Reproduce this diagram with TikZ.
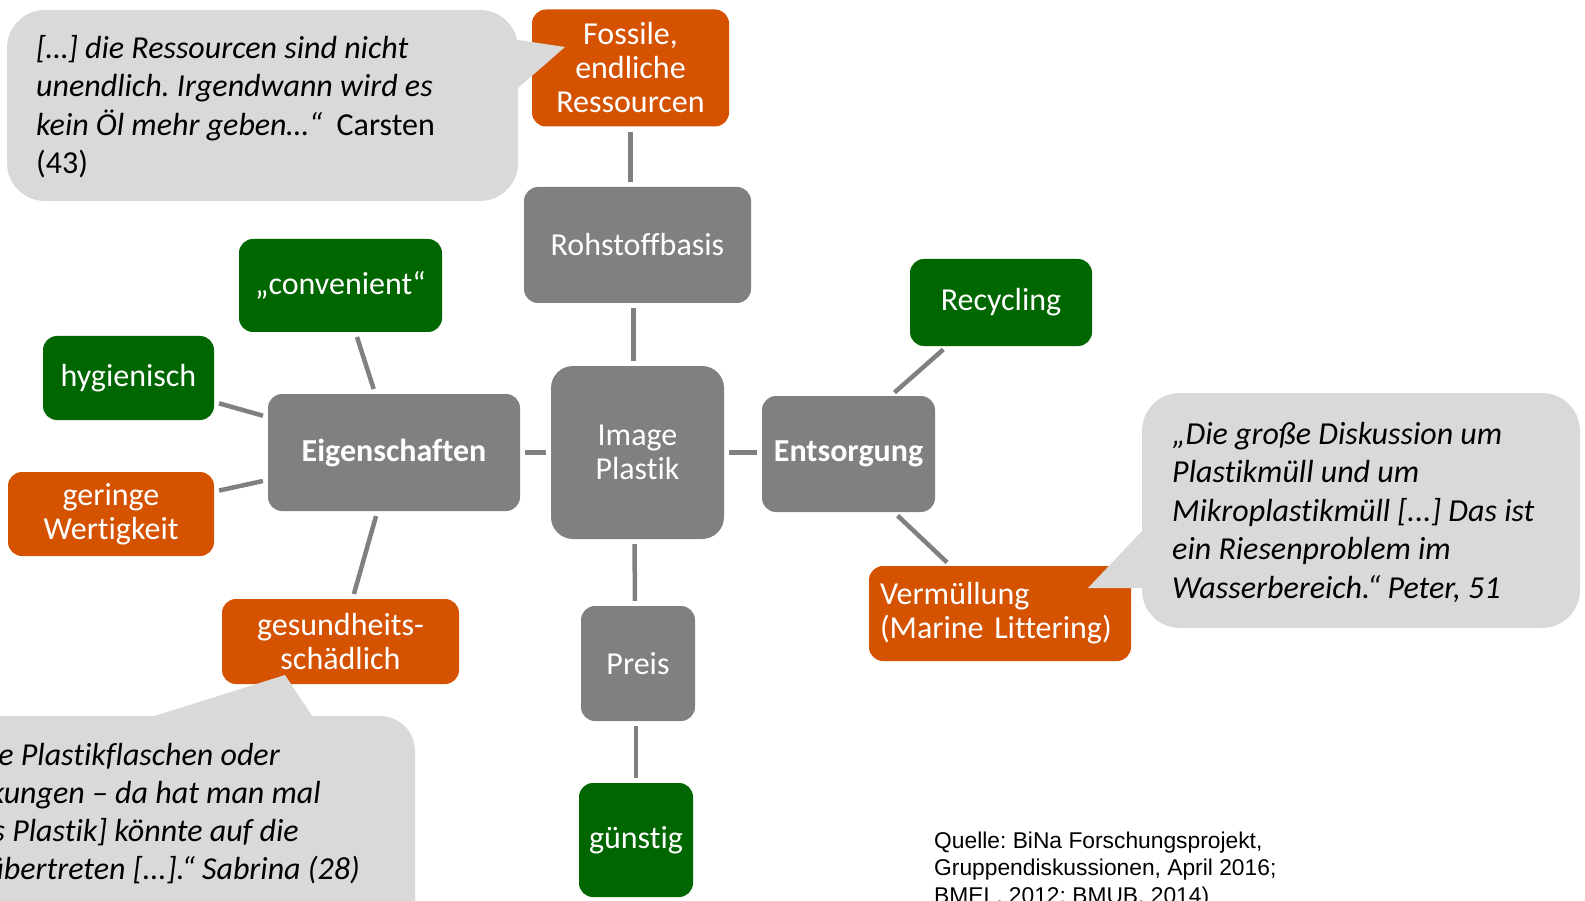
\documentclass[tikz,border=0pt]{standalone}
\usepackage{fontspec}
\setmainfont{Carlito}[Ligatures={TeX,NoCommon}]
\newfontfamily\arialf{Liberation Sans}
\usetikzlibrary{calc}
\definecolor{orng}{RGB}{213,82,0}
\definecolor{grn}{RGB}{0,102,0}
\definecolor{gbox}{RGB}{128,128,128}
\definecolor{bub}{RGB}{217,217,217}
\definecolor{conncol}{RGB}{128,128,128}
\frenchspacing
\begin{document}
\begin{tikzpicture}[x=1pt,y=-1pt,
  box/.style={rectangle, rounded corners=14pt, text=white, font=\fontsize{32}{34}\selectfont, align=center, inner sep=0pt},
  obox/.style={box, fill=orng},
  gbx/.style={box, fill=grn},
  ybox/.style={box, fill=gbox},
  boldtext/.style={font=\fontsize{32}{34}\selectfont\bfseries},
  conn/.style={draw=conncol, line width=4.5pt, shorten <=5pt, shorten >=5pt},
  quote/.style={font=\fontsize{32}{38.5}\selectfont\itshape, align=left, inner sep=0pt, anchor=west, text=black},
  bq/.style={font=\fontsize{32}{38.5}\selectfont\itshape, inner sep=0pt, anchor=base east, text=black},
  bubble/.style={fill=bub},
]
\useasboundingbox (0,0) rectangle (1585,901);
\clip (0,0) rectangle (1585,901);

% boxes
\node[obox, minimum width=197pt, minimum height=117pt] (fos) at (630.5,68) {Fossile,\\endliche\\Ressourcen};
\node[ybox, minimum width=227pt, minimum height=116pt] (roh) at (637.5,245) {Rohstoffbasis};
\node[ybox, rounded corners=22pt, minimum width=173pt, minimum height=173pt] (img) at (637.5,452.5) {Image\\Plastik};
\node[ybox, boldtext, minimum width=252pt, minimum height=117pt] (eig) at (394,452.5) {Eigenschaften};
\node[gbx, minimum width=203pt, minimum height=93pt] (conv) at (340.5,285.5) {„convenient“};
\node[gbx, minimum width=171pt, minimum height=84pt] (hyg) at (128.5,378) {hygienisch};
\node[obox, minimum width=206pt, minimum height=84pt] (ger) at (111,514) {geringe\\Wertigkeit};
\node[obox, minimum width=237pt, minimum height=85pt] (ges) at (340.5,641.5) {gesundheits-\\schädlich};
\node[ybox, boldtext, minimum width=173pt, minimum height=116pt] (ent) at (848.5,454) {Entsorgung};
\node[gbx, minimum width=182pt, minimum height=87pt] (rec) at (1001,302.5) {Recycling};
\node[obox, minimum width=262pt, minimum height=95pt, align=left, text width=240pt, inner xsep=11pt] (ver) at (1000,613.5) {Vermüllung\\(Marine Littering)};
\node[ybox, minimum width=114pt, minimum height=115pt] (pre) at (638,663.5) {Preis};
\node[gbx, minimum width=114pt, minimum height=114pt] (gun) at (636,840) {günstig};

% connectors
\draw[conn] (fos.south) -- (fos.south |- roh.north);
\draw[conn] ([xshift=-4pt]roh.south) -- ([xshift=-4pt]img.north);
\draw[conn] ([xshift=-3pt]img.south) -- ([xshift=-3pt]pre.north);
\draw[conn] (pre.south -| gun.north) -- (gun.north);
\draw[conn] (eig.east) -- (img.west);
\draw[conn] (img.east) -- (img.east -| ent.west);
\draw[conn] (eig) -- (conv);
\draw[conn] (eig) -- (hyg);
\draw[conn] (eig) -- (ger);
\draw[conn] (eig) -- (ges);
\draw[conn] (ent.54) -- (rec.219);
\draw[conn] (ent.308) -- (ver.136);

% quote bubbles
\fill[bubble, rounded corners=38pt] (7,10) rectangle (518,201);
\fill[bubble] (500,37.3) -- (565,47) -- (500,103.7) -- cycle;
\node[quote] (q1) at (36,106.5) {[…] die Ressourcen sind nicht\\unendlich. Irgendwann wird es\\kein Öl mehr geben…“~ \textup{Carsten}\\\textup{(43)}};

\fill[bubble, rounded corners=38pt] (1142,393) rectangle (1580,628);
\fill[bubble] (1160,512) -- (1088,588) -- (1160,588) -- cycle;
\node[quote] (q2) at (1172,512) {„Die große Diskussion um\\Plastikmüll und um\\Mikroplastikmüll [...] Das ist\\ein Riesenproblem im\\Wasserbereich.“ Peter, 51};

\fill[bubble, rounded corners=35pt] (-60,716) rectangle (415,960);
\fill[bubble] (78,740) -- (285,675) -- (328,740) -- cycle;
\node[bq] (q3a) at (280,765) {e Plastikflaschen oder};
\node[bq] (q3b) at (321,803) {kungen – da hat man mal};
\node[bq] (q3c) at (299,841) {s Plastik] könnte auf die};
\node[bq] (q3d) at (360,879) {übertreten [...].“ Sabrina (28)};

% source
\node[font=\arialf\fontsize{22.8}{27.2}\selectfont, align=left, anchor=north west, inner sep=0pt] (src) at (934,832) {Quelle: BiNa Forschungsprojekt,\\Gruppendiskussionen, April 2016;\\BMEL, 2012; BMUB, 2014)};
\end{tikzpicture}
\end{document}
